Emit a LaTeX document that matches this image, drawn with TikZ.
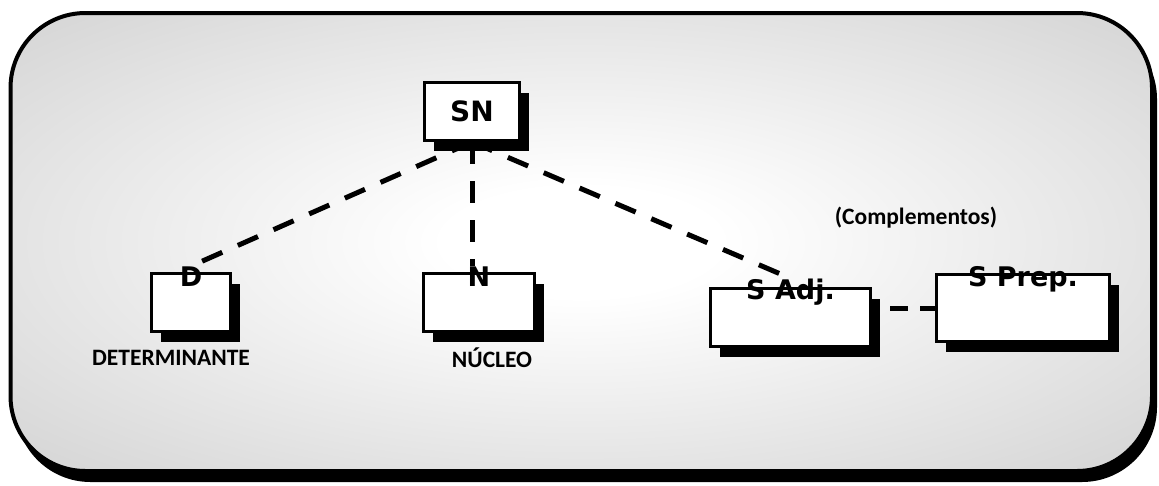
\documentclass[tikz,border=0pt]{standalone}
\usepackage{fontspec}
\usepackage{tikz}
\usetikzlibrary{shadows}
\newfontfamily\boxfont{DejaVu Sans}
\newfontfamily\notefont{Carlito}
\pgfdeclareradialshading{panel}{\pgfpoint{0bp}{0bp}}{color(0bp)=(white); color(6bp)=(white); color(50bp)=(black!25); color(75bp)=(black!25)}
\tikzset{
  phrase/.style={draw, line width=3pt, fill=white, minimum height=58pt, inner sep=0pt,
    drop shadow={shadow xshift=9pt, shadow yshift=-10pt, fill=black, opacity=1}},
  tag/.style={font=\boxfont\bfseries\fontsize{27}{27}\selectfont, inner sep=0pt, anchor=base},
  note/.style={font=\notefont\bfseries\fontsize{23.5}{23.5}\selectfont, inner sep=0pt},
  link/.style={line width=5pt, dash pattern=on 22pt off 17pt}
}
\begin{document}
\begin{tikzpicture}[x=1pt, y=-1pt]
\useasboundingbox (0,0) rectangle (1159,485);
% draw panel with shadow
	\fill[black, rounded corners=75pt] (15.5,24) rectangle (1157,482);
	\draw[line width=4pt, shading=panel, rounded corners=75pt] (10.5,13) rectangle (1152,471);
% draw boxes
	\node[phrase, minimum width=95pt] (SN) at (472,111.5) {\boxfont\bfseries\fontsize{28}{28}\selectfont SN};
	\node[phrase, minimum width=79pt] (D) at (191,302.5) {};
	\node[phrase, minimum width=111pt] (N) at (479,302.5) {};
	\node[phrase, minimum width=160pt] (SAdj) at (790.5,317.5) {};
	\node[phrase, minimum width=173pt, minimum height=67pt] (SPrep) at (1023,308) {};
% box labels
	\node[tag] (Dt) at ([yshift=-14pt]D.north) {D};
	\node[tag] (Nt) at ([yshift=-14pt]N.north) {N};
	\node[tag] (SAdjt) at ([yshift=-12pt]SAdj.north) {S Adj.};
	\node[tag] (SPrept) at ([yshift=-13pt]SPrep.north) {S Prep.};
% dashed links
	\draw[link] (SN.south) -- (Dt.north);
	\draw[link] (SN.south) -- (SN.south |- Nt.north);
	\draw[link] (SN.south) -- (SAdjt.north);
	\draw[line width=5pt, dash pattern=on 18pt off 12pt, shorten <=18pt] (SAdj.east |- SPrep.west) -- (SPrep.west);
% notes
	\node[note] (det) at (171,358) {DETERMINANTE};
	\node[note] (nuc) at (492,358) {NÚCLEO};
	\node[note] (comp) at (916,218) {(Complementos)};
\end{tikzpicture}
\end{document}
